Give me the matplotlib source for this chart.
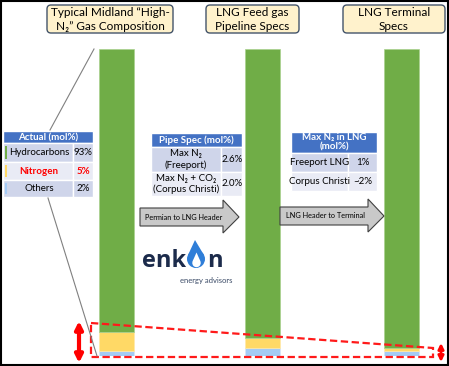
import matplotlib
matplotlib.use("Agg")
import matplotlib.pyplot as plt
from matplotlib.patches import Rectangle, FancyBboxPatch, Polygon, Circle

plt.rcParams['font.family'] = ['Lato', 'DejaVu Sans']

# stacked bars, mol% from bottom to top
stages = ["Midland gas", "Feed gas pipeline", "LNG terminal"]
others = [1.7, 2.6, 1.6]
nitrogen = [6.2, 3.3, 1.0]
hydrocarbons = [92.1, 94.1, 97.4]

titles = ["Typical Midland \u201cHigh-\nN\u2082\u201d Gas Composition",
          "LNG Feed gas\nPipeline Specs", "LNG Terminal\nSpecs"]
actual_labels = ["Hydrocarbons", "Nitrogen", "Others"]
actual_values = ["93%", "5%", "2%"]
pipe_labels = ["Max N\u2082\n(Freeport)", "Max N\u2082 + CO\u2082\n(Corpus Christi)"]
pipe_values = ["2.6%", "2.0%"]
lng_labels = ["Freeport LNG", "Corpus Christi"]
lng_values = ["1%", "~2%"]
arrow_labels = ["Permian to LNG Header", "LNG Header to Terminal"]

W, H = 449, 366
GREEN, YELLOW, BLUE = "#70AD47", "#FFD966", "#A4CBF5"
HEAD, DARK, LIGHT = "#4472C4", "#CFD5EA", "#E9EBF5"
bar_x = [116.5, 262, 401.5]

fig = plt.figure(figsize=(W / 100, H / 100), dpi=100)

# bars
bx = fig.add_axes([0, (H - 356) / H, 1, 307 / H])
bx.set_xlim(0, W)
bx.set_ylim(0, 100)
bx.axis("off")
bot2 = [a + b for a, b in zip(others, nitrogen)]
bx.bar(bar_x, others, width=35, color=BLUE, edgecolor="#D6E6F8", lw=0.5)
bx.bar(bar_x, nitrogen, bottom=others, width=35, color=YELLOW, edgecolor="#FFE9A8", lw=0.5)
bx.bar(bar_x, hydrocarbons, bottom=bot2, width=35, color=GREEN, edgecolor="#A9D18E", lw=0.5)

# overlay in pixel coords
ax = fig.add_axes([0, 0, 1, 1])
ax.set_xlim(0, W)
ax.set_ylim(H, 0)
ax.axis("off")
ax.patch.set_alpha(0)

# title boxes
for (x0, x1), t in zip([(47, 173), (206, 299), (343, 445)], titles):
    ax.add_patch(FancyBboxPatch((x0, 5), x1 - x0, 28, boxstyle="round,pad=0,rounding_size=4",
                                fc="#FFF2CC", ec="#44546A", lw=1))
    ax.text((x0 + x1) / 2, 19.5, t, ha="center", va="center", fontsize=8.5, linespacing=1.25)

# zoom lines from bar 1 to the table
ax.plot([94, 50], [49, 130], color="#808080", lw=0.8)
ax.plot([48, 97], [198, 356], color="#808080", lw=0.8)


def cell(x, y, w, h, fc):
    ax.add_patch(Rectangle((x, y), w, h, fc=fc, ec="white", lw=1))


# table 1
cell(3, 131, 90, 12, HEAD)
ax.text(48, 137.5, "Actual (mol%)", ha="center", va="center", color="white", fontsize=7, weight="bold")
rows1 = [(143, 19), (162, 18), (180, 17)]
for i, ((y, h), lab, val) in enumerate(zip(rows1, actual_labels, actual_values)):
    fc = LIGHT if i == 1 else DARK
    cell(3, y, 70, h, fc)
    cell(73, y, 20, h, fc)
    ax.add_patch(Rectangle((4.5, y + 3), 2.5, h - 6, fc=[GREEN, YELLOW, BLUE][i], ec="none"))
    red = i == 1
    ax.text(39, y + h / 2, lab, ha="center", va="center", fontsize=7,
            color="red" if red else "black", weight="bold" if red else "normal")
    ax.text(83, y + h / 2, val, ha="center", va="center", fontsize=7,
            color="red" if red else "black", weight="bold" if red else "normal")

# table 2
cell(151, 133, 91, 14, HEAD)
ax.text(196.5, 140.5, "Pipe Spec (mol%)", ha="center", va="center", color="white", fontsize=7, weight="bold")
for i, ((y, h), lab, val) in enumerate(zip([(147, 25), (172, 24)], pipe_labels, pipe_values)):
    fc = DARK if i == 0 else LIGHT
    cell(151, y, 70, h, fc)
    cell(221, y, 21, h, fc)
    ax.text(186, y + h / 2, lab, ha="center", va="center", fontsize=7, linespacing=1.2)
    ax.text(232, y + h / 2, val, ha="center", va="center", fontsize=7)

# table 3
cell(291, 132, 86, 21, HEAD)
ax.text(334, 142.5, "Max N\u2082 in LNG\n(mol%)", ha="center", va="center", color="white",
        fontsize=7, weight="bold", linespacing=1.1)
for i, ((y, h), lab, val) in enumerate(zip([(153, 19), (172, 19)], lng_labels, lng_values)):
    fc = DARK if i == 0 else LIGHT
    cell(291, y, 57, h, fc)
    cell(348, y, 29, h, fc)
    ax.text(319.5, y + h / 2, lab, ha="center", va="center", fontsize=7)
    ax.text(362.5, y + h / 2, val, ha="center", va="center", fontsize=7)

# process arrows
for (x0, xh, xt, yc), lab in zip([(140, 223, 239, 217), (280, 368, 384, 216)], arrow_labels):
    pts = [(x0, yc - 9), (xh, yc - 9), (xh, yc - 17), (xt, yc), (xh, yc + 16),
           (xh, yc + 9), (x0, yc + 9)]
    ax.add_patch(Polygon(pts, closed=True, fc="#C9C9C9", ec="#404040", lw=0.8))
    ax.text((x0 + xh) / 2 + 2, yc, lab, ha="center", va="center", fontsize=5.3)

# logo
navy = "#1C2B4B"
ax.text(142, 267, "enk", ha="left", va="baseline", fontsize=17, weight="bold",
        color=navy, family="Open Sans")
ax.text(207, 267, "n", ha="left", va="baseline", fontsize=17, weight="bold",
        color=navy, family="Open Sans")
ax.add_patch(Circle((196, 259), 9, fc="#2F7ED8", ec="none"))
ax.add_patch(Polygon([(187.8, 255.5), (195, 240), (204.2, 255.5)], closed=True, fc="#2F7ED8", ec="none"))
ax.add_patch(Circle((196.5, 263), 4.2, fc="white", ec="none"))
ax.add_patch(Polygon([(192.5, 261.5), (196.5, 252.5), (200.5, 261.5)], closed=True, fc="white", ec="none"))
ax.text(232, 281, "energy advisors", ha="right", va="center", fontsize=5.5, color="#3A4A66")

# red highlight of the nitrogen squeeze
ax.add_patch(Polygon([(91, 323), (433, 348), (433, 357), (91, 357)], closed=True, fill=False,
                     ec="#FF1A1A", lw=1.6, ls=(0, (3.3, 1.6))))
ax.annotate("", xy=(79, 321), xytext=(79, 363),
            arrowprops=dict(arrowstyle="<|-|>", color="#FF0000", lw=3, mutation_scale=11,
                            shrinkA=0, shrinkB=0))
ax.annotate("", xy=(441, 343), xytext=(441, 362),
            arrowprops=dict(arrowstyle="<|-|>", color="#FF0000", lw=2, mutation_scale=8,
                            shrinkA=0, shrinkB=0))

# frame
ax.add_patch(Rectangle((0.8, 0.8), W - 1.6, H - 1.6, fill=False, ec="black", lw=1.5))

fig.savefig("out.png", dpi=100)
